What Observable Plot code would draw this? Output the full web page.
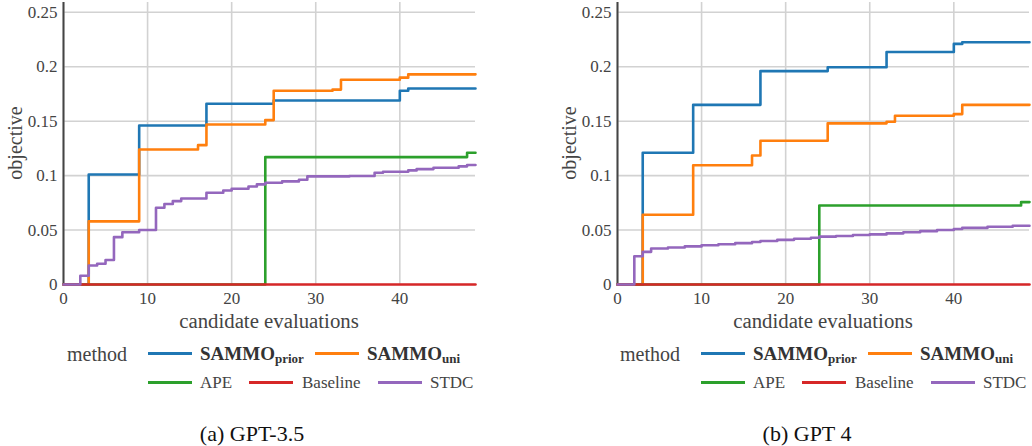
<!DOCTYPE html>
<html>
<head>
<meta charset="utf-8">
<script src="https://cdn.jsdelivr.net/npm/d3@7"></script>
<script src="https://cdn.jsdelivr.net/npm/@observablehq/plot@0.6"></script>
<style>
  html, body { margin: 0; padding: 0; background: #fff; }
  #fig { position: relative; width: 1032px; height: 446px; overflow: hidden; font-family: "Liberation Serif", Tinos, "Times New Roman", "DejaVu Serif", serif; }
  .t { position: absolute; white-space: nowrap; color: #444; }
  .ln { position: absolute; height: 3px; width: 44px; }
  sub { font-size: 13px; vertical-align: -3px; line-height: 0; }
</style>
</head>
<body>
<div id="fig"></div>
<script>
// ---- data ----
const xTicks = [0, 10, 20, 30, 40];
const yTicks = [0, 0.05, 0.1, 0.15, 0.2, 0.25];
const yTickLabels = ["0", "0.05", "0.1", "0.15", "0.2", "0.25"];
const methods = ["SAMMO_prior", "SAMMO_uni", "APE", "Baseline", "STDC"];
const methodColors = ["#1f77b4", "#ff7f0e", "#2ca02c", "#d62728", "#9467bd"];
const panelCaptions = ["(a) GPT-3.5", "(b) GPT 4"];

// GPT-3.5  [candidate evaluations, objective]
const gpt35_SAMMO_prior = [[0,0],[3,0.101],[9,0.146],[17,0.166],[25,0.169],[40,0.178],[41,0.180],[49,0.180]];
const gpt35_SAMMO_uni = [[0,0],[3,0.058],[9,0.124],[16,0.128],[17,0.147],[24,0.151],[25,0.178],[32,0.179],[33,0.188],[40,0.190],[41,0.193],[49,0.193]];
const gpt35_APE = [[0,0],[24,0.117],[48,0.121],[49,0.121]];
const gpt35_Baseline = [[0,0],[49,0]];
const gpt35_STDC = [[0,0],[2,0.008],[3,0.0175],[4,0.019],[5,0.0225],[6,0.0435],[7,0.048],[9,0.050],[11,0.0705],[12,0.074],[13,0.0766],[14,0.079],[17,0.0843],[19,0.0864],[20,0.088],[22,0.090],[23,0.092],[24,0.0935],[26,0.0947],[28,0.0962],[29,0.0993],[34,0.0996],[37,0.1026],[38,0.1035],[41,0.1048],[42,0.106],[44,0.1072],[47,0.1085],[48,0.1097],[49,0.1097]];

// GPT 4
const gpt4_SAMMO_prior = [[0,0],[3,0.121],[9,0.165],[17,0.196],[25,0.1995],[32,0.2135],[40,0.221],[41,0.2225],[49,0.2225]];
const gpt4_SAMMO_uni = [[0,0],[3,0.064],[9,0.1095],[16,0.1185],[17,0.132],[25,0.148],[32,0.1495],[33,0.155],[40,0.1565],[41,0.165],[49,0.165]];
const gpt4_APE = [[0,0],[24,0.0726],[48,0.0757],[49,0.0757]];
const gpt4_Baseline = [[0,0],[49,0]];
const gpt4_STDC = [[0,0],[2,0.026],[3,0.030],[4,0.033],[6,0.034],[8,0.035],[10,0.036],[12,0.037],[14,0.038],[16,0.039],[17,0.040],[19,0.041],[21,0.042],[23,0.043],[24,0.044],[26,0.0445],[28,0.0455],[30,0.046],[32,0.047],[34,0.048],[36,0.049],[38,0.050],[40,0.051],[41,0.052],[44,0.053],[47,0.054],[49,0.054]];

const panels = [
  {left: 0, mL: 63, mR: 41, series: [gpt35_SAMMO_prior, gpt35_SAMMO_uni, gpt35_APE, gpt35_Baseline, gpt35_STDC], legendX: 67, yTitleX: 15, capX: 252},
  {left: 516, mL: 101, mR: 3, series: [gpt4_SAMMO_prior, gpt4_SAMMO_uni, gpt4_APE, gpt4_Baseline, gpt4_STDC], legendX: 620, yTitleX: 569, capX: 807}
];

const FONT = '"Liberation Serif", Tinos, "Times New Roman", "DejaVu Serif", serif';
const fig = document.getElementById("fig");

function addText(html, x, cy, opts = {}) {
  const d = document.createElement("div");
  d.className = "t";
  d.innerHTML = html;
  const fs = opts.fontSize || 17;
  d.style.fontSize = fs + "px";
  d.style.lineHeight = "24px";
  d.style.height = "24px";
  d.style.top = (cy - 12) + "px";
  d.style.left = x + "px";
  if (opts.color) d.style.color = opts.color;
  if (opts.bold) d.style.fontWeight = "bold";
  if (opts.center) d.style.transform = "translateX(-50%)";
  fig.appendChild(d);
  return d;
}
function addLine(x, cy, color) {
  const d = document.createElement("div");
  d.className = "ln";
  d.style.left = x + "px";
  d.style.top = (cy - 1.5) + "px";
  d.style.background = color;
  fig.appendChild(d);
}

panels.forEach((p, pi) => {
  const lineMarks = p.series.map((s, i) => Plot.line(s, {
    x: d => d[0], y: d => d[1], curve: "step-after",
    stroke: methodColors[i], strokeWidth: 2.6
  }));
  const chart = Plot.plot({
    width: 516, height: 314,
    marginLeft: p.mL, marginRight: p.mR, marginTop: 2, marginBottom: 30,
    style: {fontFamily: FONT, fontSize: "17px", color: "#444", background: "transparent", overflow: "visible"},
    x: {domain: [0, 49]},
    y: {domain: [0, 0.259]},
    marks: [
      Plot.gridX(xTicks, {stroke: "#d2d2d2", strokeOpacity: 1, strokeWidth: 1.6}),
      Plot.gridY(yTicks, {stroke: "#d2d2d2", strokeOpacity: 1, strokeWidth: 1.6}),
      Plot.axisX(xTicks, {tickSize: 0, tickPadding: 7, label: null, fontSize: 17}),
      Plot.axisY(yTicks, {tickSize: 0, tickPadding: 6, label: null, fontSize: 17,
        tickFormat: d => yTickLabels[yTicks.indexOf(d)]}),
      Plot.ruleX([0], {stroke: "#444", strokeWidth: 2}),
      ...lineMarks
    ]
  });
  chart.style.position = "absolute";
  chart.style.left = p.left + "px";
  chart.style.top = "0px";
  fig.appendChild(chart);

  const plotCenter = p.left + p.mL + (516 - p.mL - p.mR) / 2;
  addText("candidate evaluations", plotCenter, 321, {fontSize: 20.8, center: true});
  const yt = addText("objective", p.yTitleX, 143, {fontSize: 20});
  yt.style.transform = "translate(-50%, 0) rotate(-90deg)";
  yt.style.transformOrigin = "50% 50%";

  const b = p.legendX;
  const r1 = 353.5, r2 = 382.5;
  addText("method", b, r1, {fontSize: 20});
  addLine(b + 81, r1, methodColors[0]);
  addText("SAMMO<sub>prior</sub>", b + 133, r1, {fontSize: 19, bold: true, color: "#333"});
  addLine(b + 248, r1, methodColors[1]);
  addText("SAMMO<sub>uni</sub>", b + 300, r1, {fontSize: 19, bold: true, color: "#333"});
  addLine(b + 81, r2, methodColors[2]);
  addText(methods[2], b + 133, r2, {fontSize: 17});
  addLine(b + 182, r2, methodColors[3]);
  addText(methods[3], b + 235, r2, {fontSize: 17});
  addLine(b + 311, r2, methodColors[4]);
  addText(methods[4], b + 363, r2, {fontSize: 17});

  addText(panelCaptions[pi], p.capX, 433.5, {fontSize: 22, center: true, color: "#111"});
});
</script>
</body>
</html>
